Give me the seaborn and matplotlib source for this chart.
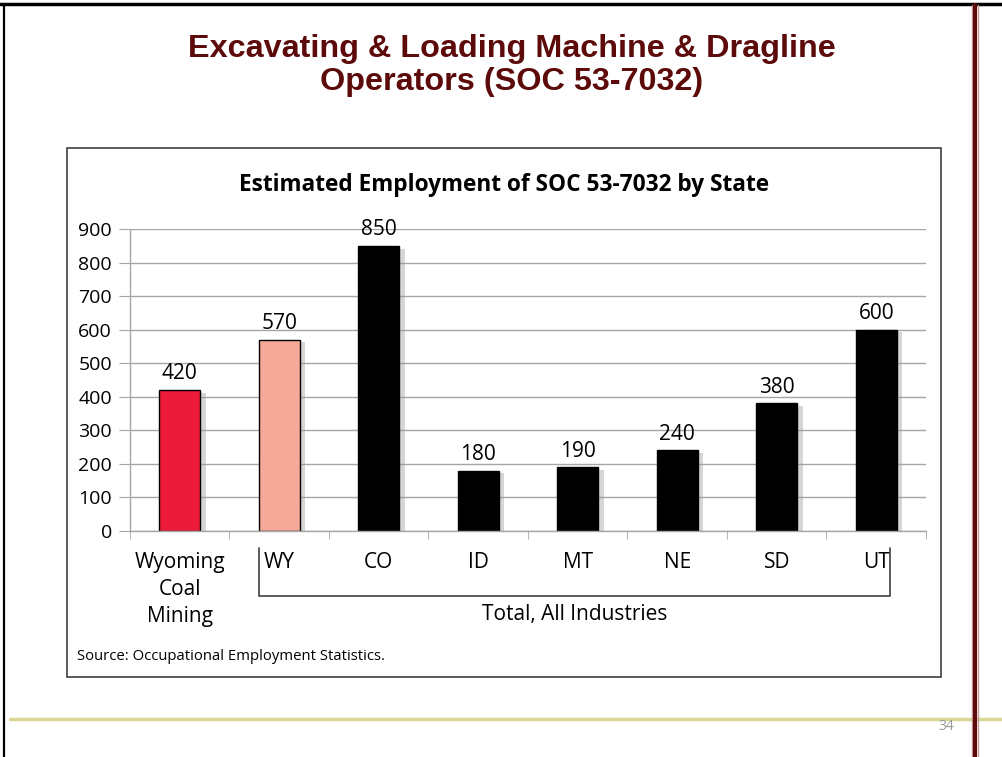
import numpy as np
import pandas as pd
import seaborn as sns
import matplotlib.pyplot as plt
from matplotlib import patheffects
from matplotlib.lines import Line2D
from matplotlib.patches import Rectangle
import matplotlib.transforms as mtransforms

# data
states = ['Wyoming\nCoal\nMining', 'WY', 'CO', 'ID', 'MT', 'NE', 'SD', 'UT']
employment = [420, 570, 850, 180, 190, 240, 380, 600]
bar_colors = ['#ED1B3A', '#F7A999', '#000000', '#000000', '#000000', '#000000', '#000000', '#000000']
y_ticks = [0, 100, 200, 300, 400, 500, 600, 700, 800, 900]

sns.set_style('white')
plt.rcParams['font.family'] = ['Open Sans', 'DejaVu Sans']
plt.rcParams['text.color'] = 'black'
plt.rcParams['xtick.labelcolor'] = 'black'
plt.rcParams['ytick.labelcolor'] = 'black'

df = pd.DataFrame({'state': states, 'employment': employment})

fig = plt.figure(figsize=(10.03, 7.57), dpi=100)
ax = fig.add_axes([0.1296, 0.2986, 0.7936, 0.3989])
ax.set_axisbelow(True)

sns.barplot(data=df, x='state', y='employment', hue='state',
            palette=dict(zip(states, bar_colors)), width=0.41,
            edgecolor='black', linewidth=1, legend=False, saturation=1, ax=ax)

# soft shadow to the lower right like the excel bars
for p in ax.patches:
    p.set_path_effects([patheffects.SimplePatchShadow(offset=(4, -2), shadow_rgbFace='0.6', alpha=0.4),
                        patheffects.Normal()])

for c in ax.containers:
    ax.bar_label(c, padding=4, fontsize=15)

ax.set_xlim(-0.5, 7.5)
ax.set_ylim(0, 900)
ax.set_yticks(y_ticks)
ax.set_xlabel('')
ax.set_ylabel('')
ax.grid(axis='y', color='#A6A6A6', linewidth=1)
ax.grid(axis='x', visible=False)
for s in ['top', 'right']:
    ax.spines[s].set_visible(False)
for s in ['left', 'bottom']:
    ax.spines[s].set_color('#A6A6A6')
    ax.spines[s].set_linewidth(1)
ax.tick_params(axis='y', length=8, color='#A6A6A6', labelsize=14, pad=5, left=True)
ax.tick_params(axis='x', which='major', length=0, labelsize=15, pad=15)
for lab in ax.get_xticklabels():
    lab.set_linespacing(1.38)
ax.set_xticks(np.arange(-0.5, 8, 1), minor=True)
ax.tick_params(axis='x', which='minor', length=6, color='#A6A6A6', bottom=True)

# bracket under the state labels
tr = mtransforms.blended_transform_factory(ax.transData, ax.transAxes)
ax.add_line(Line2D([0.8, 0.8, 7.14, 7.14], [-0.056, -0.215, -0.215, -0.056],
                   transform=tr, color='#404040', lw=1.2, clip_on=False))
ax.text(3.97, -0.275, 'Total, All Industries', transform=tr, ha='center', va='center', fontsize=15)

# chart frame, title, source
fig.add_artist(Rectangle((0.0668, 0.1057), 0.8714, 0.6988, transform=fig.transFigure,
                         fill=False, edgecolor='#404040', lw=1.2))
fig.text(0.5025, 1 - 185 / 757, 'Estimated Employment of SOC 53-7032 by State',
         ha='center', va='center', fontsize=16.3, fontweight='bold')
fig.text(77 / 1003, 1 - 657 / 757, 'Source: Occupational Employment Statistics.',
         ha='left', va='center', fontsize=10.7)

# slide title
fig.text(512 / 1003, 1 - 49 / 757, 'Excavating & Loading Machine & Dragline',
         ha='center', va='center', fontsize=23.3, fontweight='bold', color='#5C0A0A',
         family=['Liberation Sans', 'DejaVu Sans'])
fig.text(512 / 1003, 1 - 82 / 757, 'Operators (SOC 53-7032)',
         ha='center', va='center', fontsize=23.3, fontweight='bold', color='#5C0A0A',
         family=['Liberation Sans', 'DejaVu Sans'])

# slide decorations
fig.add_artist(Line2D([0, 1], [1 - 4 / 757] * 2, transform=fig.transFigure, color='black', lw=2.5))
fig.add_artist(Line2D([4 / 1003] * 2, [0, 1 - 4 / 757], transform=fig.transFigure, color='black', lw=1.6))
fig.add_artist(Line2D([10 / 1003, 1], [1 - 719 / 757] * 2, transform=fig.transFigure, color='#D8D595', lw=2.5))
for x, c, w in [(972, '#C99A9A', 1), (978, '#C99A9A', 1), (975, '#5C0A0A', 3)]:
    fig.add_artist(Line2D([x / 1003] * 2, [0, 1 - 5 / 757], transform=fig.transFigure, color=c, lw=w))
fig.text(946 / 1003, 1 - 727 / 757, '34', ha='center', va='center', fontsize=10, color='#999999')

fig.savefig('out.png', dpi=100)
